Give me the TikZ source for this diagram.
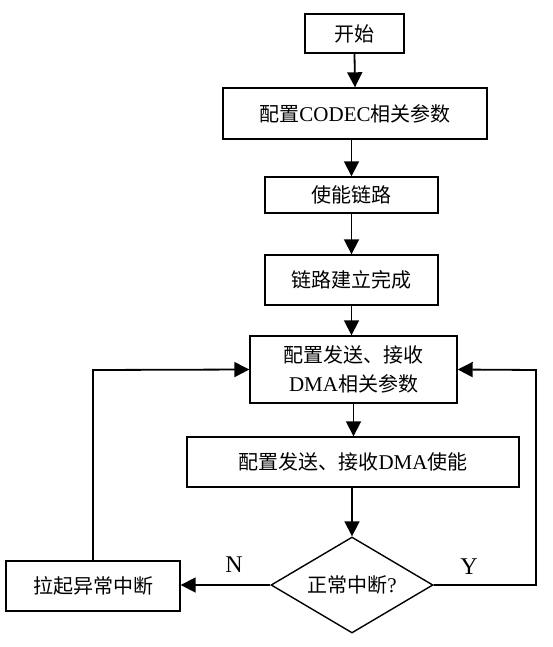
\documentclass[tikz,border=0pt]{standalone}
\usepackage{fontspec}
\setmainfont{Liberation Serif}
\newfontfamily\cjk{Noto Sans CJK SC}
\newfontfamily\latf{Liberation Serif}
\newcommand\ltn[1]{{\latf\fontsize{21}{29}\selectfont #1}}
\usetikzlibrary{shapes.geometric,arrows.meta}
\begin{document}
\begin{tikzpicture}[x=1pt,y=-1pt,
  box/.style={draw,line width=1.4pt,rectangle,inner sep=0pt,align=center,
    font=\cjk\fontsize{20}{29}\selectfont},
  dia/.style={draw,line width=1.4pt,diamond,inner sep=0pt,shape aspect=1.7,
    font=\cjk\fontsize{20}{29}\selectfont},
  arr/.style={line width=1.8pt,-{Triangle[length=15pt,width=15pt]}},
  lbl/.style={font=\latf\fontsize{24}{26}\selectfont}]
\useasboundingbox (0,0) rectangle (553,647);
\node[box,minimum width=99pt,minimum height=39pt] (start) at (354.5,33.5) {开始};
\node[box,minimum width=264pt,minimum height=51pt] (codec) at (355,113.5) {配置\ltn{CODEC}相关参数};
\node[box,minimum width=173pt,minimum height=36pt] (enable) at (351.5,195) {使能链路};
\node[box,minimum width=173pt,minimum height=50pt] (link) at (351.5,280) {链路建立完成};
\node[box,minimum width=207pt,minimum height=67pt] (dmap) at (353.5,369.5) {配置发送、接收\\\ltn{DMA}相关参数};
\node[box,minimum width=332pt,minimum height=50pt] (dmae) at (353,462) {配置发送、接收\ltn{DMA}使能};
\node[dia,minimum width=162pt,minimum height=96pt] (chk) at (352,585) {正常中断\ltn{?}};
\node[box,minimum width=174pt,minimum height=50pt] (irq) at (93,586) {拉起异常中断};
\coordinate (lc) at (93,370);
\coordinate (rc1) at (536,585);
\coordinate (rc2) at (536,370);
\draw[arr] (start.south) -- (codec.north);
\draw[arr] (codec.south -| enable.north) -- (enable.north);
\draw[arr] (enable.south) -- (link.north);
\draw[arr] (link.south) -- (link.south |- dmap.north);
\draw[arr] (dmap.south) -- (dmap.south |- dmae.north);
\draw[arr] (dmae.south -| chk.north) -- (chk.north);
\draw[arr] (chk.west) -- (irq.east |- chk.west);
\draw[arr] (irq.north -| lc) -- (lc) -- (dmap.west);
\draw[arr] (chk.east) -- (rc1) -- (rc2) -- (dmap.east);
\node[lbl] (nl) at (234,565) {N};
\node[lbl] (yl) at (469,567) {Y};
\end{tikzpicture}
\end{document}
